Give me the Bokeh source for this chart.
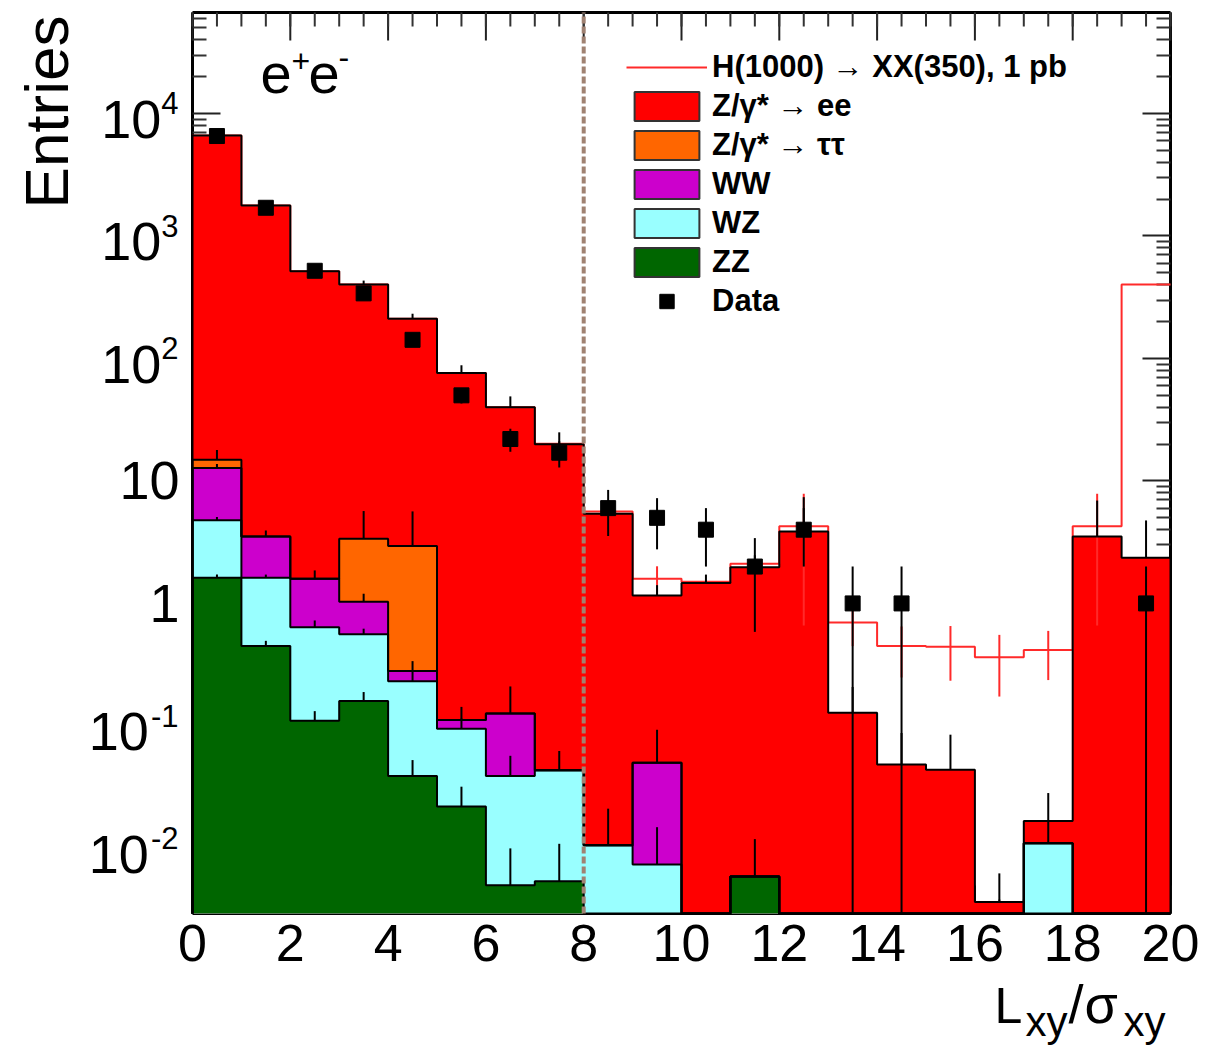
import math
import numpy as np
from bokeh.plotting import figure
from bokeh.models import (Range1d, FixedTicker, LinearAxis, LogAxis, Label,
                          Legend, LegendItem, CustomJSTickFormatter)
from bokeh.embed import file_html
from bokeh.resources import INLINE

# ---------------- data ----------------
bin_low = list(range(0, 20))
bin_high = list(range(1, 21))

# per-component contents (stacked bottom -> top: ZZ, WZ, WW, Z->tautau, Z->ee)
zz = [1.62, 0.45, 0.11, 0.16, 0.039, 0.022, 0.005, 0.0054, 0, 0,
      0, 0.0059, 0, 0, 0, 0, 0, 0, 0, 0]
wz = [3.15, 1.17, 0.53, 0.40, 0.193, 0.073, 0.034, 0.038, 0.0106, 0.0074,
      0, 0, 0, 0, 0, 0, 0, 0.011, 0, 0]
ww = [8.0, 1.9, 0.95, 0.47, 0.049, 0.017, 0.087, 0, 0, 0.0426,
      0, 0, 0, 0, 0, 0, 0, 0, 0, 0]
ztt = [2.1, 0, 0, 2.35, 2.66, 0, 0, 0, 0, 0,
       0, 0, 0, 0, 0, 0, 0, 0, 0, 0]
zee = [6585, 1771, 514, 399, 208, 75.9, 39.9, 19.9, 5.39, 1.11,
       1.47, 1.97, 3.87, 0.128, 0.0485, 0.0438, 0.00365, 0.0057, 3.52, 2.36]

# MC statistical errors (upper half visible on each stacked layer)
zz_err = [0.1, 0.045, 0.022, 0.029, 0.0136, 0.0099, 0.005, 0.0055, 0, 0,
          0, 0.006, 0, 0, 0, 0, 0, 0, 0, 0]
wz_err = [0.3, 0.1, 0.086, 0.062, 0.05, 0.02, 0.018, 0.019, 0.0105, 0.0075,
          0, 0, 0, 0, 0, 0, 0, 0.0055, 0, 0]
ww_err = [1.0, 0.42, 0.27, 0.17, 0.057, 0.031, 0.084, 0, 0, 0.043,
          0, 0, 0, 0, 0, 0, 0, 0, 0, 0]
ztt_err = [3.0, 0, 0, 2.3, 2.7, 0, 0, 0, 0, 0,
           0, 0, 0, 0, 0, 0, 0, 0, 0, 0]
zee_err = [80, 40, 20, 30, 21, 12, 9, 5, 1.2, 0.25,
           0.25, 0.5, 3.5, 0.08, 0.039, 0.041, 0.0026, 0.0116, 3.4, 2.4]

# signal H(1000) -> XX(350), 1 pb, drawn on top of the background sum
signal = [0, 0, 0, 0, 0, 0, 0, 0.2, 0.24, 0.43,
          0.03, 0.13, 0.39, 0.57, 0.40, 0.40, 0.36, 0.40, 0.74, 400]
signal_err = [0, 0, 0, 0, 0, 0, 0, 0, 0, 0.42,
              0, 0, 3.6, 0.25, 0.2, 0.21, 0.19, 0.18, 3.6, 0]

data = [6550, 1700, 520, 340, 142, 50, 22, 17, 6, 5,
        4, 2, 4, 1, 1, 0, 0, 0, 0, 1]

x_ticks = [0, 2, 4, 6, 8, 10, 12, 14, 16, 18, 20]
x_minor = [i * 0.5 for i in range(0, 41)]
y_ticks = [1e-2, 1e-1, 1, 10, 1e2, 1e3, 1e4]
y_tick_base = ["10", "10", "1", "10", "10", "10", "10"]
y_tick_exp = ["-2", "-1", "", "", "2", "3", "4"]

names = ["H(1000) \u2192 XX(350), 1 pb", "Z/\u03b3* \u2192 ee", "Z/\u03b3* \u2192 \u03c4\u03c4",
         "WW", "WZ", "ZZ", "Data"]
colors = {"zee": "#ff0000", "ztt": "#ff6600", "ww": "#cc00cc", "wz": "#99ffff", "zz": "#006600"}
sig_color = "#ff2a2a"
cut_value = 8

FONT = "Liberation Sans"
X0, X1 = 0, 20
Y0, Y1 = 0.00294, 66800
KB = 0.39  # baseline correction (fraction of font size)

y_minor = [mm * 10.0 ** k for k in range(-3, 5) for mm in range(2, 10)
           if Y0 <= mm * 10.0 ** k <= Y1]

# ---------------- layout geometry (pixels) ----------------
W, H = 1205, 1052
PL, PR, PT, PB = 192, 1170, 12, 913
TICK_MAJ, TICK_MIN = 28, 14
xpx = (PR - PL) / (X1 - X0)
lo_y, hi_y = math.log10(Y0), math.log10(Y1)
ypx = (PB - PT) / (hi_y - lo_y)
x_range = Range1d(X0 - PL / xpx, X1 + (W - PR) / xpx)
y_range = Range1d(10 ** (lo_y - (H - PB) / ypx), 10 ** (hi_y + PT / ypx))

p = figure(width=W, height=H, x_range=x_range, y_range=y_range, y_axis_type="log",
           x_axis_location=None, y_axis_location=None,
           output_backend="svg", toolbar_location=None, min_border=0)
p.background_fill_color = "white"
p.border_fill_color = "white"
p.outline_line_color = None
p.xgrid.visible = False
p.ygrid.visible = False

FLOOR = Y0
centers = [0.5 * (a + b) for a, b in zip(bin_low, bin_high)]
cen = np.array(centers)

layers = [("zz", zz, zz_err), ("wz", wz, wz_err), ("ww", ww, ww_err),
          ("ztt", ztt, ztt_err), ("zee", zee, zee_err)]
cum = []
run = np.zeros(20)
for key, vals, errs in layers:
    run = run + np.array(vals, dtype=float)
    cum.append((key, run.copy(), np.array(errs, dtype=float), np.array(vals, dtype=float)))


def step_xy(vals, close=True):
    xs, ys = [], []
    if close:
        xs.append(bin_low[0]); ys.append(FLOOR)
    for lo, hi, v in zip(bin_low, bin_high, vals):
        v = min(max(float(v), FLOOR), Y1)
        xs += [lo, hi]
        ys += [v, v]
    if close:
        xs.append(bin_high[-1]); ys.append(FLOOR)
    return xs, ys


# x-axis tick marks along the bottom and top edges, drawn first so the
# histogram fills cover them (as in the original)
for tick_list, length, col in [(x_ticks, TICK_MAJ, "#222222"), (x_minor, TICK_MIN, "#333333")]:
    f = 10 ** (length / ypx)
    tx = [float(t) for t in tick_list]
    n = len(tx)
    p.segment(x0=tx, x1=tx, y0=[Y0] * n, y1=[Y0 * f] * n, line_color=col, line_width=2)
    p.segment(x0=tx, x1=tx, y0=[Y1] * n, y1=[Y1 / f] * n, line_color=col, line_width=2)

# fills, drawn from the top of the stack down
for key, c, e, v in reversed(cum):
    xs, ys = step_xy(c)
    p.patch(xs, ys, fill_color=colors[key], line_color=None)

total = cum[-1][1]
sig_line = total + np.array(signal)
sx, sy = step_xy(sig_line, close=False)
p.line(sx, sy, line_color=sig_color, line_width=2)
se = np.array(signal_err)
m = se > 0
p.segment(x0=cen[m], x1=cen[m],
          y0=np.maximum(sig_line[m] - se[m], FLOOR), y1=sig_line[m] + se[m],
          line_color=sig_color, line_width=2)

# outlines
for key, c, e, v in reversed(cum):
    xs, ys = step_xy(c)
    p.line(xs, ys, line_color="black", line_width=2)

# MC error bars (upper halves)
for key, c, e, v in cum:
    mk = (e > 0) & (v > 0)
    p.segment(x0=cen[mk], x1=cen[mk], y0=c[mk], y1=c[mk] + e[mk],
              line_color="black", line_width=2)

# cut line at Lxy/sigma = 8
p.segment(x0=[cut_value], x1=[cut_value], y0=[Y0], y1=[Y1], line_color="#a08272",
          line_width=4, line_dash="7 3")

# data
d = np.array(data, dtype=float)
md = d > 0
dc = cen[md]
dv = d[md]
p.segment(x0=dc, x1=dc, y0=np.maximum(dv - np.sqrt(dv), FLOOR), y1=dv + np.sqrt(dv),
          line_color="black", line_width=2)
p.scatter(dc, dv, marker="square", size=15, fill_color="black", line_color="black")

# ---------------- axes (fixed at the plot box edges) ----------------
blank = CustomJSTickFormatter(code="return ''")


def style_axis(ax, ticks, minor, tin=TICK_MAJ):
    ax.ticker = FixedTicker(ticks=ticks, minor_ticks=minor)
    ax.major_tick_in = tin
    ax.major_tick_out = 0
    ax.minor_tick_in = tin // 2
    ax.minor_tick_out = 0
    ax.major_tick_line_color = "#222222"
    ax.minor_tick_line_color = "#333333"
    ax.major_tick_line_width = 2
    ax.minor_tick_line_width = 2
    ax.axis_line_color = "black"
    ax.axis_line_width = 3
    ax.level = "underlay"


xb = LinearAxis(fixed_location=Y0, bounds=(X0, X1))
style_axis(xb, x_ticks, x_minor, tin=0)
xb.major_label_text_font = FONT
xb.major_label_text_font_size = "52px"
xb.major_label_text_color = "black"
xb.major_label_standoff = 11
p.add_layout(xb, "below")

xt = LinearAxis(fixed_location=Y1, bounds=(X0, X1), formatter=blank)
style_axis(xt, x_ticks, x_minor, tin=0)
p.add_layout(xt, "above")

yl = LogAxis(fixed_location=X0, bounds=(Y0, Y1), formatter=blank)
style_axis(yl, y_ticks, y_minor)
p.add_layout(yl, "left")

yr = LogAxis(fixed_location=X1, bounds=(Y0, Y1), formatter=blank)
style_axis(yr, y_ticks, y_minor)
p.add_layout(yr, "right")


def txt(x, y, xo, yo, text, fs, align="left"):
    p.add_layout(Label(x=x, y=y, x_offset=xo, y_offset=yo + KB * fs, text=text,
                       text_align=align, text_baseline="alphabetic", text_font=FONT,
                       text_font_size=f"{fs}px", text_color="black"))


# y tick labels (10 with superscript)
for t, base, ex in zip(y_ticks, y_tick_base, y_tick_exp):
    if ex:
        sup_w = sum(0.556 if ch.isdigit() else 0.40 for ch in ex) * 31
        txt(X0, t, -14, -2, ex, 31, align="right")
        txt(X0, t, -14 - sup_w, -27, base, 54, align="right")
    else:
        txt(X0, t, -13, -21, base, 54, align="right")

# axis titles
p.add_layout(Label(x=X0, y=Y1, x_offset=-122 - KB * 62, y_offset=-3, angle=math.pi / 2,
                   text="Entries", text_align="right", text_baseline="alphabetic",
                   text_font=FONT, text_font_size="62px", text_color="black"))

for t_, xo, yo, fs in [("L", -176, -112, 50), ("xy", -145, -124, 42), ("/", -102, -112, 54),
                       ("\u03c3", -86, -112, 54), ("xy", -47, -124, 42)]:
    txt(X1, Y0, xo, yo, t_, fs)

# channel label e+e-
for t_, xo, yo, fs in [("e", 68, -83, 56), ("+", 99, -61, 32), ("e", 116, -83, 56),
                       ("-", 146, -57, 32)]:
    txt(X0, Y1, xo, yo, t_, fs)

# ---------------- legend ----------------
hidden_y = [Y0 * 1e-3]
leg_sig = p.line([0, 1], hidden_y * 2, line_color=sig_color, line_width=2)
leg_boxes = []
for key in ["zee", "ztt", "ww", "wz", "zz"]:
    leg_boxes.append(p.quad(left=[0], right=[0.1], top=hidden_y, bottom=[Y0 * 1e-4],
                            fill_color=colors[key], line_color="#333333", line_width=2))
leg_data = p.scatter([0.5], hidden_y, marker="square", size=15,
                     fill_color="black", line_color="black")

items = [LegendItem(label=names[0], renderers=[leg_sig])]
for nm, r in zip(names[1:6], leg_boxes):
    items.append(LegendItem(label=nm, renderers=[r]))
items.append(LegendItem(label=names[6], renderers=[leg_data]))

leg_left, leg_top, row_h, row_gap = 626, 49, 36, 3
leg_h = len(items) * row_h + (len(items) - 1) * row_gap
legend = Legend(items=items, location=(leg_left, H - leg_top - leg_h), padding=0, margin=0,
                glyph_width=81, glyph_height=row_h, label_height=row_h, spacing=row_gap,
                label_standoff=5, border_line_color=None, background_fill_alpha=0,
                label_text_font=FONT, label_text_font_size="31px",
                label_text_font_style="bold", label_text_color="black")
p.add_layout(legend)

open("out.html", "w").write(file_html(p, INLINE))
